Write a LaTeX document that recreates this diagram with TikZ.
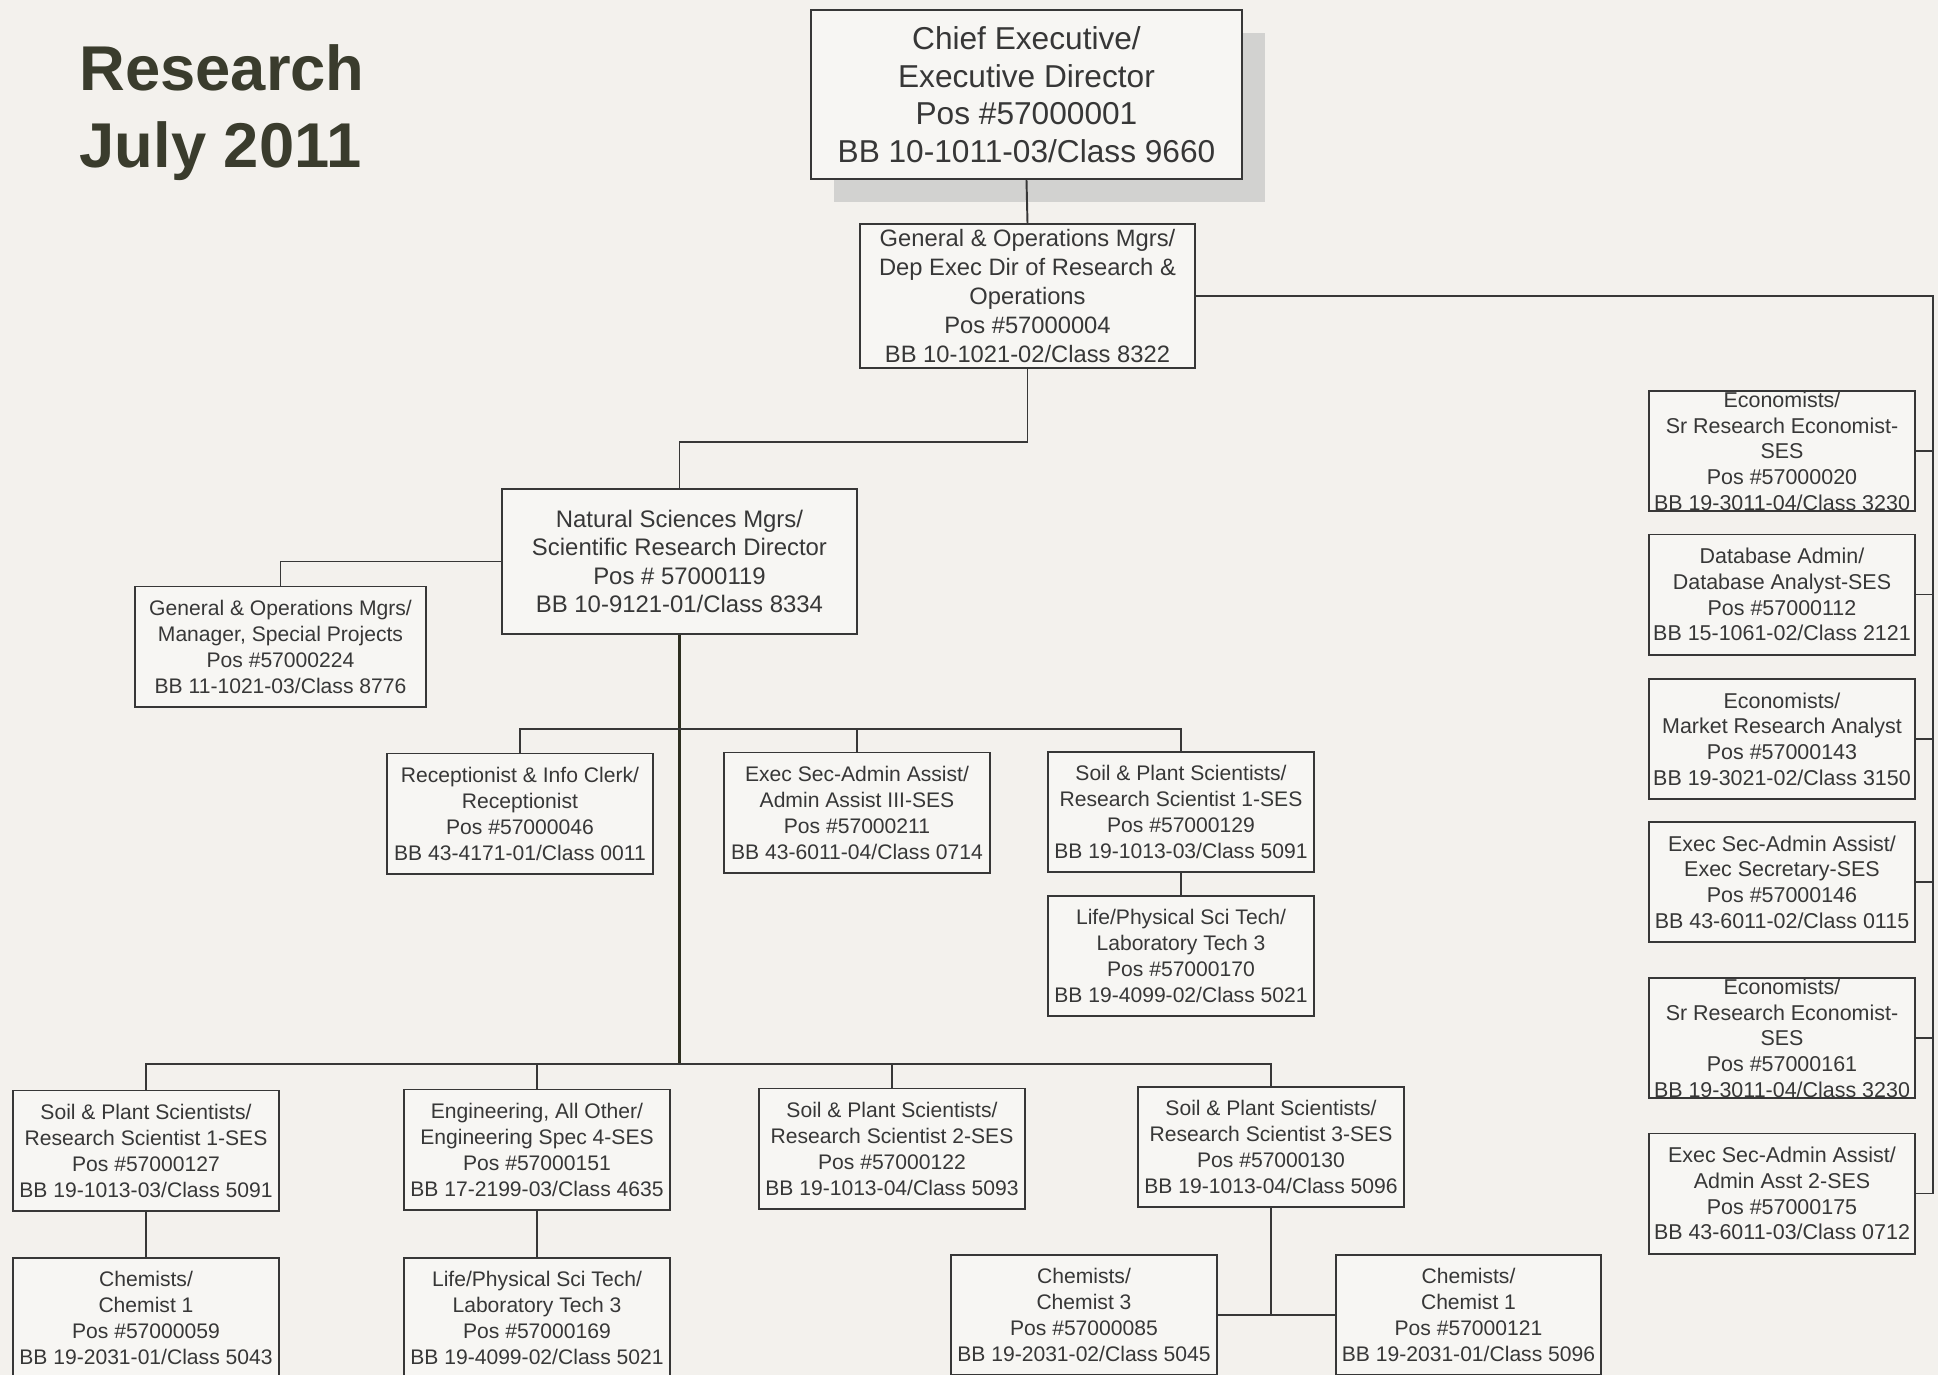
\documentclass[tikz,border=0pt]{standalone}
\usepackage{fontspec}
\setmainfont{Liberation Sans}
\usetikzlibrary{shadows}

\definecolor{paper}{RGB}{243,241,237}
\definecolor{boxfill}{RGB}{247,246,243}
\definecolor{ink}{RGB}{55,55,55}
\definecolor{titleink}{RGB}{58,60,45}
\definecolor{trunkink}{RGB}{45,46,32}
\definecolor{shade}{RGB}{210,210,208}

\tikzset{
  post/.style={draw=ink, fill=boxfill, text=ink, line width=0.55pt, align=center,
    minimum width=2.65cm, minimum height=1.2cm, inner xsep=1pt, inner ysep=0pt,
    font=\fontsize{6}{7.4}\selectfont},
  side/.style={post, minimum width=2.66cm, font=\fontsize{6.1}{7.3}\selectfont},
  wire/.style={draw=ink, line width=0.55pt},
  trunk/.style={draw=trunkink, line width=1pt},
  heading/.style={text=titleink, align=left, inner sep=0pt,
    font=\fontsize{18}{21.9}\selectfont\bfseries}
}

\begin{document}
\begin{tikzpicture}[x=0.01cm, y=-0.01cm]
  \fill[paper] (0,0) rectangle (1938,1375);
  \useasboundingbox (0,0) rectangle (1938,1375);

  % Title
  \node[heading, anchor=north west] (title) at (79,44) {Research\\July 2011};

  % Top of the chart
  \node[post, minimum width=4.31cm, minimum height=1.69cm,
    font=\fontsize{9}{10.7}\selectfont,
    drop shadow={shadow xshift=0.23cm, shadow yshift=-0.23cm, fill=shade, opacity=1}]
    (chief) at (1026.5,94.5)
    {Chief Executive/\\Executive Director\\Pos \#57000001\\BB 10-1011-03/Class 9660};
  \node[post, minimum width=3.35cm, minimum height=1.44cm,
    font=\fontsize{6.75}{8.2}\selectfont] (deputy) at (1027.5,296)
    {General \& Operations Mgrs/\\Dep Exec Dir of Research \&\\Operations\\Pos \#57000004\\BB 10-1021-02/Class 8322};
  \node[post, minimum width=3.55cm, minimum height=1.45cm,
    font=\fontsize{6.8}{8.1}\selectfont] (natsci) at (679.5,561.5)
    {Natural Sciences Mgrs/\\Scientific Research Director\\Pos \# 57000119\\BB 10-9121-01/Class 8334};
  \node[post, minimum width=2.91cm] (special) at (280.5,646.5)
    {General \& Operations Mgrs/\\Manager, Special Projects\\Pos \#57000224\\BB 11-1021-03/Class 8776};

  % First row under the director
  \node[post] (recept) at (520,813.5)
    {Receptionist \& Info Clerk/\\Receptionist\\Pos \#57000046\\BB 43-4171-01/Class 0011};
  \node[post] (adminIII) at (857,812.5)
    {Exec Sec-Admin Assist/\\Admin Assist III-SES\\Pos \#57000211\\BB 43-6011-04/Class 0714};
  \node[post] (soilR) at (1181,812)
    {Soil \& Plant Scientists/\\Research Scientist 1-SES\\Pos \#57000129\\BB 19-1013-03/Class 5091};
  \node[post] (labR) at (1181,956)
    {Life/Physical Sci Tech/\\Laboratory Tech 3\\Pos \#57000170\\BB 19-4099-02/Class 5021};

  % Second row under the director
  \node[post] (soilA) at (146,1150.5)
    {Soil \& Plant Scientists/\\Research Scientist 1-SES\\Pos \#57000127\\BB 19-1013-03/Class 5091};
  \node[post] (engin) at (537,1149.5)
    {Engineering, All Other/\\Engineering Spec 4-SES\\Pos \#57000151\\BB 17-2199-03/Class 4635};
  \node[post] (soilB) at (892,1148.5)
    {Soil \& Plant Scientists/\\Research Scientist 2-SES\\Pos \#57000122\\BB 19-1013-04/Class 5093};
  \node[post] (soilC) at (1271,1147)
    {Soil \& Plant Scientists/\\Research Scientist 3-SES\\Pos \#57000130\\BB 19-1013-04/Class 5096};
  \node[post] (chemA) at (146,1318)
    {Chemists/\\Chemist 1\\Pos \#57000059\\BB 19-2031-01/Class 5043};
  \node[post] (labB) at (537,1318)
    {Life/Physical Sci Tech/\\Laboratory Tech 3\\Pos \#57000169\\BB 19-4099-02/Class 5021};
  \node[post] (chemC) at (1084,1315)
    {Chemists/\\Chemist 3\\Pos \#57000085\\BB 19-2031-02/Class 5045};
  \node[post] (chemD) at (1468.5,1315)
    {Chemists/\\Chemist 1\\Pos \#57000121\\BB 19-2031-01/Class 5096};

  % Right column
  \node[side] (econA) at (1782,451)
    {Economists/\\Sr Research Economist-\\SES\\Pos \#57000020\\BB 19-3011-04/Class 3230};
  \node[side] (dbase) at (1782,594.5)
    {Database Admin/\\Database Analyst-SES\\Pos \#57000112\\BB 15-1061-02/Class 2121};
  \node[side] (econB) at (1782,739)
    {Economists/\\Market Research Analyst\\Pos \#57000143\\BB 19-3021-02/Class 3150};
  \node[side] (execsec) at (1782,882)
    {Exec Sec-Admin Assist/\\Exec Secretary-SES\\Pos \#57000146\\BB 43-6011-02/Class 0115};
  \node[side] (econC) at (1782,1038)
    {Economists/\\Sr Research Economist-\\SES\\Pos \#57000161\\BB 19-3011-04/Class 3230};
  \node[side] (asst) at (1782,1193.5)
    {Exec Sec-Admin Assist/\\Admin Asst 2-SES\\Pos \#57000175\\BB 43-6011-03/Class 0712};

  % Coordinates
  \coordinate (spine) at (1933,296);
  \coordinate (busA) at (679.5,729);
  \coordinate (busB) at (679.5,1064);

  % Connectors
  \draw[wire] (chief.south) -- (deputy.north);
  \draw[wire] (deputy.south) -- ++(0,73) -| (natsci.north);
  \draw[wire] (deputy.east) -- (spine) |- (asst.east);
  \foreach \n in {econA,dbase,econB,execsec,econC}
    \draw[wire] (\n.east) -- (\n.east -| spine);
  \draw[wire] (natsci.west) -| (special.north);
  \draw[trunk] (natsci.south) -- (busB);
  \draw[wire] (recept.north) |- (busA) -| (soilR.north);
  \draw[wire] (adminIII.north) -- (adminIII.north |- busA);
  \draw[wire] (soilR) -- (labR);
  \draw[wire] (soilA.north) |- (busB) -| (soilC.north);
  \draw[wire] (engin.north) -- (engin.north |- busB);
  \draw[wire] (soilB.north) -- (soilB.north |- busB);
  \draw[wire] (soilA) -- (chemA);
  \draw[wire] (engin) -- (labB);
  \draw[wire] (chemC.east) -- (chemD.west);
  \draw[wire] (soilC.south) -- (soilC.south |- chemC.east);
\end{tikzpicture}
\end{document}
